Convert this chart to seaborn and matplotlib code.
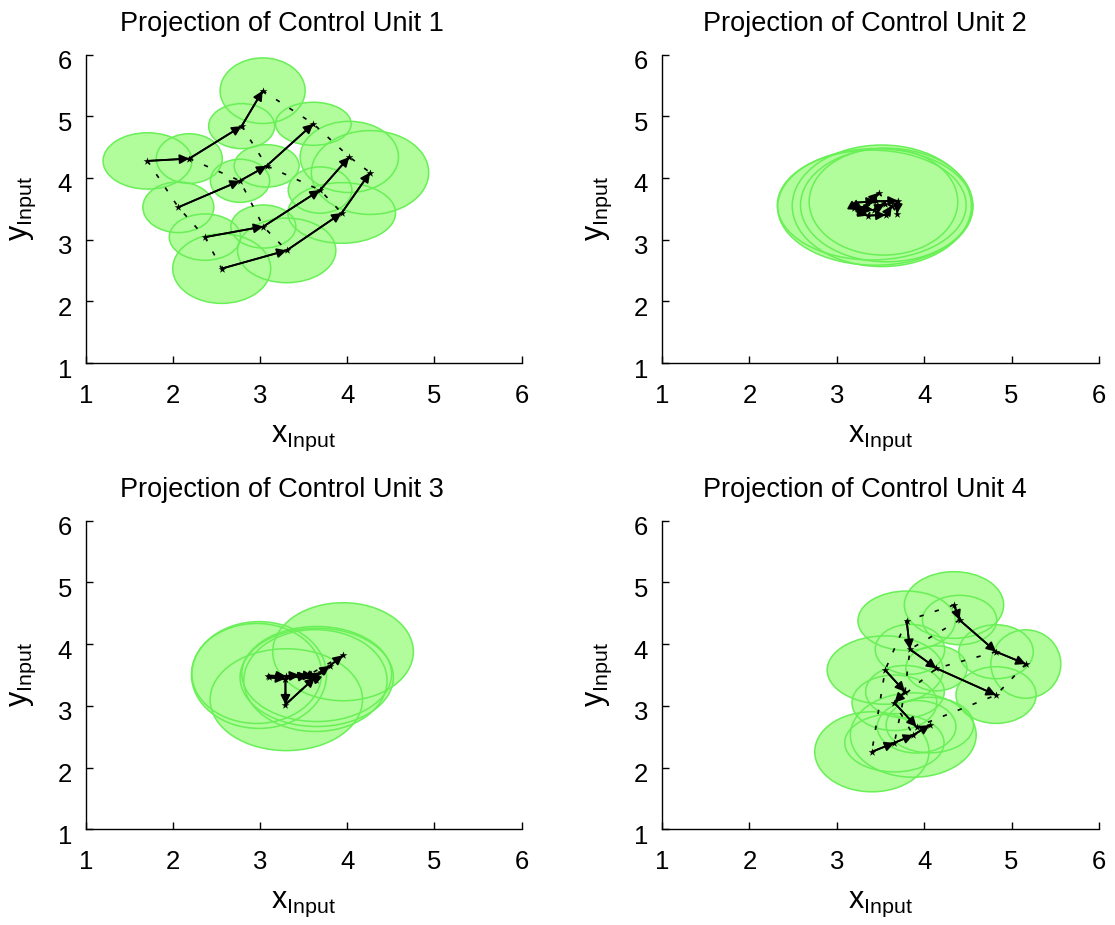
import matplotlib
matplotlib.use("Agg")
import matplotlib.pyplot as plt
import matplotlib.transforms as mtransforms
from matplotlib.patches import Ellipse
import pandas as pd
import seaborn as sns

sns.set_theme(style="white")
plt.rcParams["font.family"] = ["Liberation Sans", "DejaVu Sans"]
plt.rcParams["mathtext.default"] = "regular"

titles = ["Projection of Control Unit 1", "Projection of Control Unit 2",
          "Projection of Control Unit 3", "Projection of Control Unit 4"]
ticks = [1, 2, 3, 4, 5, 6]

# ---- Control unit 1: 4 chains of 4 prototypes, each with its receptive ellipse
u1_x = [[1.706, 2.186, 2.787, 3.028], [2.060, 2.768, 3.074, 3.610],
        [2.366, 3.036, 3.687, 4.023], [2.558, 3.304, 3.936, 4.261]]
u1_y = [[4.275, 4.313, 4.839, 5.413], [3.524, 3.953, 4.195, 4.877],
        [3.040, 3.212, 3.803, 4.340], [2.530, 2.825, 3.432, 4.087]]
u1_w = [[1.020, 0.758, 0.758, 0.976], [0.815, 0.681, 0.746, 0.869],
        [0.820, 0.746, 0.730, 1.129], [1.125, 1.129, 1.236, 1.347]]
u1_h = [[0.913, 0.805, 0.730, 1.063], [0.821, 0.698, 0.687, 0.698],
        [0.750, 0.698, 0.750, 1.154], [1.128, 1.047, 0.983, 1.358]]

# ---- Control unit 2: prototypes collapsed into one small region
u2_x = [[3.20, 3.25, 3.33, 3.48], [3.22, 3.45, 3.70, 3.69],
        [3.24, 3.36, 3.56, 3.63], [3.21, 3.30, 3.42, 3.55]]
u2_y = [[3.52, 3.48, 3.55, 3.76], [3.60, 3.62, 3.63, 3.42],
        [3.45, 3.39, 3.40, 3.55], [3.56, 3.50, 3.48, 3.58]]
u2_ex = [3.40, 3.515, 3.534, 3.44, 3.57]
u2_ey = [3.56, 3.548, 3.614, 3.53, 3.56]
u2_ew = [2.16, 2.05, 1.70, 2.235, 1.97]
u2_eh = [1.78, 1.97, 1.73, 1.89, 1.84]

# ---- Control unit 3
u3_x = [[3.09, 3.30, 3.45, 3.61], [3.10, 3.29, 3.55, 3.64],
        [3.29, 3.29, 3.63, 3.58], [3.62, 3.70, 3.80, 3.95]]
u3_y = [[3.49, 3.48, 3.50, 3.48], [3.46, 3.44, 3.50, 3.42],
        [3.44, 3.02, 3.46, 3.52], [3.47, 3.55, 3.65, 3.82]]
u3_ex = [2.986, 2.96, 3.30, 3.634, 3.649, 3.649, 3.951]
u3_ey = [3.50, 3.525, 3.10, 3.41, 3.462, 3.516, 3.877]
u3_ew = [1.55, 1.49, 1.75, 1.645, 1.76, 1.72, 1.615]
u3_eh = [1.73, 1.62, 1.65, 1.65, 1.594, 1.54, 1.588]

# ---- Control unit 4
u4_x = [[4.341, 4.405, 4.822, 5.163], [3.799, 3.837, 4.140, 4.822],
        [3.553, 3.780, 3.659, 3.913], [3.401, 3.659, 3.875, 4.065]]
u4_y = [[4.634, 4.391, 3.877, 3.678], [4.379, 3.916, 3.608, 3.175],
        [3.580, 3.229, 3.050, 2.661], [2.256, 2.402, 2.527, 2.689]]
u4_w = [[1.136, 0.850, 0.852, 0.800], [1.114, 0.795, 0.700, 0.917],
        [1.326, 0.900, 0.970, 0.900], [1.307, 1.136, 1.440, 1.000]]
u4_h = [[1.080, 0.800, 0.875, 1.108], [0.962, 0.810, 0.730, 0.918],
        [1.108, 0.850, 0.900, 0.850], [1.297, 0.945, 1.367, 0.900]]


def flat(rows):
    return [v for r in rows for v in r]


panels = [
    dict(nx=u1_x, ny=u1_y, ex=flat(u1_x), ey=flat(u1_y), ew=flat(u1_w), eh=flat(u1_h)),
    dict(nx=u2_x, ny=u2_y, ex=u2_ex, ey=u2_ey, ew=u2_ew, eh=u2_eh),
    dict(nx=u3_x, ny=u3_y, ex=u3_ex, ey=u3_ey, ew=u3_ew, eh=u3_eh),
    dict(nx=u4_x, ny=u4_y, ex=flat(u4_x), ey=flat(u4_y), ew=flat(u4_w), eh=flat(u4_h)),
]

FACE = "#b1fc9b"
EDGE = "#69f057"

W, H = 1115, 925
fig = plt.figure(figsize=(W / 100, H / 100), dpi=100)
boxes = [(86, 54.5, 435.5, 308.5), (662, 54.5, 437, 308.5),
         (86, 520.7, 435.5, 308.6), (662, 520.7, 437, 308.6)]
title_x = [0.451, 0.4645, 0.451, 0.4645]
ytick_shift = mtransforms.ScaledTranslation(0, -5 / 100, fig.dpi_scale_trans)

for k, (p, (l, t, w, h)) in enumerate(zip(panels, boxes)):
    ax = fig.add_axes([l / W, 1 - (t + h) / H, w / W, h / H])

    # receptive fields: fills first, outlines on top so every border shows
    for cx, cy, ew, eh in zip(p["ex"], p["ey"], p["ew"], p["eh"]):
        ax.add_patch(Ellipse((cx, cy), ew, eh, facecolor=FACE, edgecolor="none", zorder=1))
    for cx, cy, ew, eh in zip(p["ex"], p["ey"], p["ew"], p["eh"]):
        ax.add_patch(Ellipse((cx, cy), ew, eh, facecolor="none", edgecolor=EDGE,
                             lw=1.1, zorder=2))

    nx, ny = p["nx"], p["ny"]
    chains = pd.DataFrame([dict(x=nx[r][c], y=ny[r][c], chain=r, step=c)
                           for r in range(4) for c in range(4)])
    links = pd.DataFrame([dict(x=nx[r][c], y=ny[r][c], chain=c, step=r)
                          for c in range(4) for r in range(4)])

    # neighbour links (dotted) between chains
    n0 = len(ax.lines)
    sns.lineplot(data=links, x="x", y="y", units="chain", estimator=None, sort=False,
                 color="black", lw=1.2, ax=ax, legend=False, zorder=3)
    for ln in ax.lines[n0:]:
        ln.set_linestyle((0, (2.6, 7.0)))

    # chains (solid) with arrowheads at each prototype
    sns.lineplot(data=chains, x="x", y="y", units="chain", estimator=None, sort=False,
                 color="black", lw=1.3, ax=ax, legend=False, zorder=4)
    for r in range(4):
        for c in range(1, 4):
            ax.annotate("", xy=(nx[r][c], ny[r][c]), xytext=(nx[r][c - 1], ny[r][c - 1]),
                        arrowprops=dict(arrowstyle="-|>", color="black", lw=1.3,
                                        mutation_scale=14, shrinkA=0, shrinkB=0),
                        zorder=5)
    sns.scatterplot(data=chains, x="x", y="y", marker="*", s=34, color="black",
                    linewidth=0, ax=ax, legend=False, zorder=5)

    ax.set_xlim(1, 6)
    ax.set_ylim(1, 6)
    ax.set_xticks(ticks)
    ax.set_yticks(ticks)
    ax.set_facecolor("white")
    for side in ["top", "right"]:
        ax.spines[side].set_visible(False)
    for side in ["left", "bottom"]:
        ax.spines[side].set_color("black")
        ax.spines[side].set_linewidth(1.0)
    ax.tick_params(axis="both", direction="in", length=5, width=1, colors="black",
                   labelsize=18.5, left=True, bottom=True)
    ax.tick_params(axis="x", pad=15)
    ax.tick_params(axis="y", pad=10)
    for lab in ax.get_yticklabels():
        lab.set_transform(lab.get_transform() + ytick_shift)
    ax.set_title(titles[k], fontsize=19.5, pad=17, color="black", x=title_x[k])
    ax.set_xlabel("$x_{Input}$", fontsize=22, labelpad=11, color="black")
    ax.set_ylabel("$y_{Input}$", fontsize=22, labelpad=14, color="black")

fig.savefig("out.png", dpi=100, facecolor="white")
